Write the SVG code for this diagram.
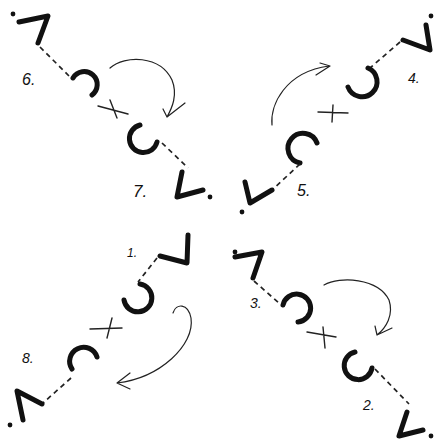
<svg xmlns="http://www.w3.org/2000/svg" width="437" height="441" viewBox="0 0 437 441">
<style>
.g{fill:none;stroke:#111;stroke-width:5;stroke-linecap:round;stroke-linejoin:round}
.d{fill:none;stroke:#222;stroke-width:1.7;stroke-dasharray:5 4}
.a{fill:none;stroke:#222;stroke-width:1.2;stroke-linecap:round;stroke-linejoin:round}
.x{fill:none;stroke:#222;stroke-width:1.4;stroke-linecap:round}
.p{fill:#111}
.t{font-family:"Liberation Sans",Arial,sans-serif;font-style:italic;font-size:16px;fill:#111}
</style>
<rect width="437" height="441" fill="#fff"/>
<g id="arm-top-left">
<circle class="p" cx="13" cy="14" r="2.4"/>
<path class="g" d="M19,22 L48,16 L38,43"/>
<path class="d" d="M40,47 L71,78"/>
<path class="g" d="M73,78 A13,13 0 1 1 92,95"/>
<path class="x" d="M98,106 L128,114 M110,100 L117,118"/>
<path class="a" d="M110,68 C125,55 160,55 172,80 C178,95 172,108 167,117 M163,109 L167,117 L185,103"/>
<path class="g" d="M140,125 A14,14 0 1 0 157,142"/>
<path class="d" d="M162,143 L188,168"/>
<path class="g" d="M182,172 L177,197 L203,190"/>
<circle class="p" cx="210" cy="197" r="2.4"/>
<text class="t" x="22" y="85">6.</text>
<text class="t" x="133" y="197" style="font-size:17px">7.</text>
</g>
<g id="arm-top-right">
<circle class="p" cx="431" cy="16" r="2.4"/>
<path class="g" d="M426,25 L430,50 L403,40"/>
<path class="d" d="M400,42 L370,68"/>
<path class="g" d="M368,68 A15,15 0 1 1 348,87"/>
<path class="x" d="M318,112 L348,113 M333,105 L332,122"/>
<path class="a" d="M272,125 C270,105 285,72 329,66 M320,63 L330,66 L316,75"/>
<path class="g" d="M317,143 A15,15 0 1 0 300,163"/>
<path class="d" d="M300,164 L272,190"/>
<path class="g" d="M245,182 L250,203 L272,190"/>
<circle class="p" cx="242" cy="212" r="2.4"/>
<text class="t" x="408" y="83" style="font-size:14px">4.</text>
<text class="t" x="297" y="196">5.</text>
</g>
<g id="arm-bottom-left">
<path class="g" d="M188,235 L187,263 L160,256"/>
<path class="d" d="M157,258 L138,282"/>
<path class="g" d="M140,284 A14,14 0 1 1 124,300"/>
<path class="x" d="M90,329 L122,328 M112,318 L107,338"/>
<path class="a" d="M173,313 C176,303 188,303 191,318 C195,345 160,378 117,383 M130,373 L117,383 L130,389"/>
<path class="g" d="M97,357 A14,14 0 1 0 72,369"/>
<path class="d" d="M71,378 L43,403"/>
<path class="g" d="M42,404 L17,391 L23,420"/>
<circle class="p" cx="10" cy="425" r="2.4"/>
<text class="t" x="127" y="257" style="font-size:12px">1.</text>
<text class="t" x="22" y="363" style="font-size:14px">8.</text>
</g>
<g id="arm-bottom-right">
<circle class="p" cx="235" cy="252" r="2.4"/>
<path class="g" d="M235,257 L262,252 L253,278"/>
<path class="d" d="M254,281 L280,304"/>
<path class="g" d="M283,305 A14,14 0 1 1 298,322"/>
<path class="x" d="M307,332 L336,337 M323,327 L325,348"/>
<path class="a" d="M324,285 C340,276 378,278 389,300 C394,315 386,328 377,335 M375,326 L377,335 L392,328"/>
<path class="g" d="M355,352 A14,14 0 1 0 372,368"/>
<path class="d" d="M375,369 L409,404"/>
<path class="g" d="M407,412 L399,436 L423,430"/>
<circle class="p" cx="431" cy="436" r="2.4"/>
<text class="t" x="250" y="308" style="font-size:14px">3.</text>
<text class="t" x="363" y="410" style="font-size:14px">2.</text>
</g>
</svg>
